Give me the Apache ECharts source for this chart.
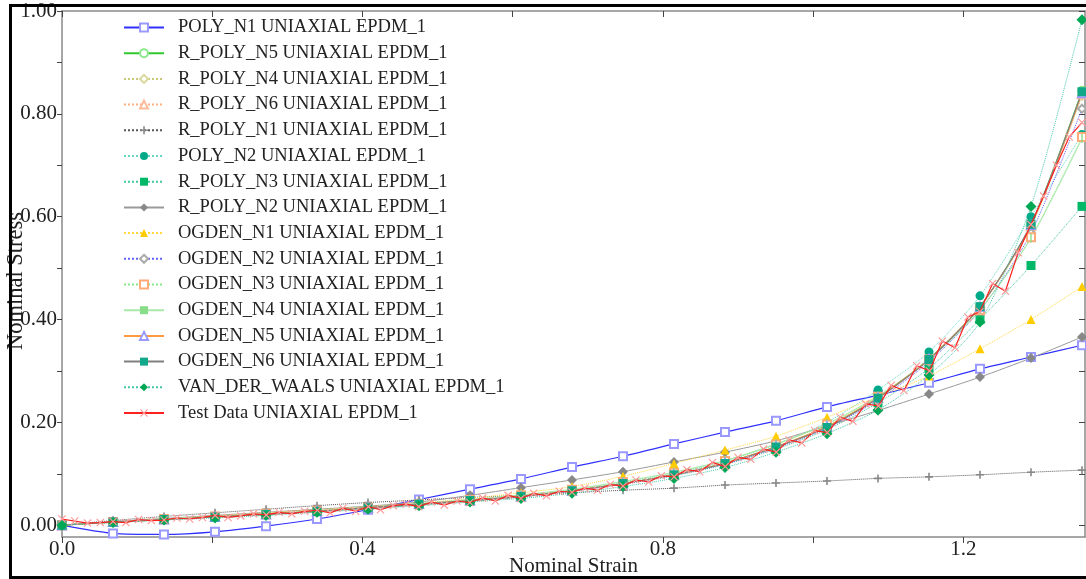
<!DOCTYPE html>
<html><head><meta charset="utf-8">
<script src="https://cdn.jsdelivr.net/npm/echarts@6/dist/echarts.min.js"></script>
<style>html,body{margin:0;padding:0;background:#fff}#c{width:1086px;height:579px}</style>
</head><body><div id="c"></div>
<script>
// ---------- DATA ----------
const strain = [0, 0.0679, 0.1358, 0.2037, 0.2716, 0.3395, 0.4074, 0.4753, 0.5432, 0.6111, 0.679, 0.7469, 0.8148, 0.8827, 0.9506, 1.0185, 1.0864, 1.1543, 1.2222, 1.2901, 1.358];

const polyN1   = [0,-0.016,-0.018,-0.013,-0.002,0.012,0.030,0.050,0.070,0.090,0.113,0.134,0.158,0.181,0.203,0.230,0.253,0.277,0.304,0.327,0.350];
const rPolyN5  = [0,0.006,0.011,0.016,0.021,0.027,0.033,0.040,0.047,0.056,0.067,0.081,0.098,0.121,0.152,0.192,0.248,0.324,0.425,0.585,0.845];
const rPolyN4  = [0,0.007,0.012,0.017,0.022,0.028,0.034,0.041,0.048,0.056,0.067,0.081,0.098,0.120,0.151,0.190,0.246,0.322,0.424,0.580,0.835];
const rPolyN6  = [0,0.006,0.011,0.016,0.021,0.027,0.034,0.041,0.048,0.056,0.067,0.081,0.098,0.120,0.152,0.191,0.247,0.322,0.423,0.582,0.838];
const rPolyN1  = [0,0.009,0.017,0.024,0.031,0.038,0.044,0.049,0.054,0.058,0.063,0.068,0.072,0.078,0.082,0.086,0.091,0.094,0.098,0.103,0.107];
const polyN2   = [0,0.007,0.012,0.017,0.022,0.028,0.035,0.042,0.049,0.057,0.068,0.082,0.100,0.124,0.157,0.200,0.263,0.337,0.446,0.600,0.760];
const rPolyN3  = [0,0.006,0.011,0.016,0.021,0.027,0.033,0.040,0.047,0.055,0.066,0.080,0.096,0.118,0.148,0.186,0.238,0.305,0.400,0.505,0.620];
const rPolyN2  = [0,0.007,0.013,0.019,0.025,0.031,0.037,0.045,0.058,0.073,0.088,0.104,0.123,0.142,0.164,0.193,0.223,0.255,0.288,0.325,0.366];
const ogdenN1  = [0,0.006,0.012,0.018,0.024,0.030,0.036,0.043,0.052,0.063,0.075,0.095,0.120,0.146,0.173,0.210,0.250,0.290,0.343,0.400,0.464];
const ogdenN2  = [0,0.006,0.011,0.016,0.021,0.027,0.033,0.040,0.047,0.055,0.066,0.080,0.097,0.119,0.150,0.189,0.243,0.318,0.418,0.568,0.810];
const ogdenN3  = [0,0.006,0.012,0.017,0.022,0.028,0.034,0.041,0.049,0.058,0.069,0.084,0.102,0.125,0.157,0.196,0.250,0.322,0.418,0.560,0.755];
const ogdenN4  = [0,0.006,0.012,0.017,0.022,0.028,0.035,0.042,0.050,0.059,0.070,0.085,0.103,0.126,0.158,0.197,0.251,0.323,0.419,0.558,0.752];
const ogdenN5  = [0,0.006,0.011,0.016,0.021,0.027,0.034,0.041,0.048,0.056,0.067,0.081,0.098,0.121,0.153,0.192,0.248,0.323,0.425,0.584,0.840];
const ogdenN6  = [0,0.006,0.011,0.016,0.021,0.027,0.034,0.041,0.048,0.056,0.067,0.081,0.098,0.120,0.152,0.190,0.247,0.322,0.425,0.585,0.843];
const vdw      = [0,0.005,0.010,0.014,0.019,0.025,0.031,0.038,0.045,0.052,0.062,0.075,0.091,0.112,0.142,0.178,0.224,0.292,0.395,0.620,0.983];

const testStrain = [0,0.017,0.034,0.051,0.068,0.085,0.102,0.119,0.136,0.153,0.170,0.187,0.204,0.221,0.238,0.255,0.272,0.289,0.306,0.323,0.340,0.357,0.374,0.391,0.408,0.424,0.441,0.458,0.475,0.492,0.509,0.526,0.543,0.560,0.577,0.594,0.611,0.628,0.645,0.662,0.679,0.696,0.713,0.730,0.747,0.764,0.781,0.798,0.815,0.832,0.849,0.866,0.883,0.900,0.917,0.934,0.951,0.968,0.985,1.002,1.019,1.036,1.053,1.070,1.087,1.104,1.121,1.138,1.155,1.172,1.189,1.206,1.222,1.239,1.256,1.273,1.290,1.307,1.324,1.341,1.358];
const testStress = [0.012,0.008,0.004,0.005,0.007,0.005,0.011,0.009,0.010,0.014,0.012,0.015,0.019,0.015,0.018,0.022,0.020,0.025,0.022,0.027,0.029,0.024,0.033,0.027,0.036,0.030,0.038,0.041,0.036,0.045,0.039,0.047,0.044,0.053,0.047,0.058,0.052,0.062,0.057,0.066,0.064,0.072,0.068,0.079,0.076,0.088,0.084,0.096,0.094,0.108,0.104,0.122,0.114,0.132,0.128,0.148,0.142,0.166,0.160,0.184,0.180,0.210,0.202,0.236,0.232,0.272,0.262,0.310,0.300,0.358,0.345,0.405,0.415,0.470,0.455,0.530,0.585,0.640,0.700,0.755,0.783];

const xTicks = [0,0.2,0.4,0.6,0.8,1.0,1.2];
const xLabels = [0,0.4,0.8,1.2];
const yTicks = [0,0.1,0.2,0.3,0.4,0.5,0.6,0.7,0.8,0.9,1.0];
const yLabels = [0,0.2,0.4,0.6,0.8,1.0];

const names = ['POLY_N1 UNIAXIAL EPDM_1','R_POLY_N5 UNIAXIAL EPDM_1','R_POLY_N4 UNIAXIAL EPDM_1','R_POLY_N6 UNIAXIAL EPDM_1','R_POLY_N1 UNIAXIAL EPDM_1','POLY_N2 UNIAXIAL EPDM_1','R_POLY_N3 UNIAXIAL EPDM_1','R_POLY_N2 UNIAXIAL EPDM_1','OGDEN_N1 UNIAXIAL EPDM_1','OGDEN_N2 UNIAXIAL EPDM_1','OGDEN_N3 UNIAXIAL EPDM_1','OGDEN_N4 UNIAXIAL EPDM_1','OGDEN_N5 UNIAXIAL EPDM_1','OGDEN_N6 UNIAXIAL EPDM_1','VAN_DER_WAALS UNIAXIAL EPDM_1','Test Data UNIAXIAL EPDM_1'];

// ---------- STYLE ----------
const PLUS = 'path://M4,0h2v4h4v2h-4v4h-2v-4h-4v-2h4z';
const BAR = 'path://M0,0h1.5v10h-1.5z';
const XMARK = 'path://M0,1L1,0L5,4L9,0L10,1L6,5L10,9L9,10L5,6L1,10L0,9L4,5z';
const FONT = '"Liberation Serif","DejaVu Serif",serif';

function fit(name, vals, o) {
  return {
    name, type: 'line', data: strain.map((x, i) => [x, vals[i]]),
    smooth: 0.25, symbol: o.sym, symbolSize: o.size || 8, showSymbol: true,
    symbolKeepAspect: !!o.keep,
    lineStyle: { color: o.line, width: o.w || 1, type: o.dash ? 'dotted' : 'solid' },
    itemStyle: { color: o.mk },
    emphasis: { disabled: true }, animation: false, z: o.z || 2
  };
}

const series = [
  fit(names[0], polyN1,  { line: '#3030ff', mk: '#9999ff', sym: 'emptyRect', w: 1.2 }),
  fit(names[1], rPolyN5, { line: '#30c830', mk: '#8be88b', sym: 'emptyCircle' }),
  fit(names[2], rPolyN4, { line: '#c8c878', mk: '#d8d89a', sym: 'emptyDiamond', dash: true }),
  fit(names[3], rPolyN6, { line: '#ffb080', mk: '#ffbb99', sym: 'emptyTriangle', dash: true }),
  fit(names[4], rPolyN1, { line: '#555555', mk: '#888888', sym: PLUS, dash: true, size: 8 }),
  fit(names[5], polyN2,  { line: '#66d8c4', mk: '#00aa88', sym: 'circle', dash: true, size: 9 }),
  fit(names[6], rPolyN3, { line: '#44c8a0', mk: '#00b868', sym: 'rect', dash: true, size: 9 }),
  fit(names[7], rPolyN2, { line: '#999999', mk: '#888888', sym: 'diamond', size: 10 }),
  fit(names[8], ogdenN1, { line: '#ffd840', mk: '#ffcc00', sym: 'triangle', dash: true, size: 9 }),
  fit(names[9], ogdenN2, { line: '#6060ff', mk: '#aaaaaa', sym: 'emptyDiamond', dash: true }),
  fit(names[10], ogdenN3, { line: '#88e888', mk: '#ffaa77', sym: 'emptyRect', dash: true }),
  fit(names[11], ogdenN4, { line: '#a8e8a8', mk: '#88dd88', sym: BAR, size: 9, keep: true }),
  fit(names[12], ogdenN5, { line: '#ff9a44', mk: '#9999ff', sym: 'emptyTriangle', w: 1.2 }),
  fit(names[13], ogdenN6, { line: '#808080', mk: '#10a888', sym: 'rect', size: 9, w: 1.2 }),
  fit(names[14], vdw,    { line: '#44c8aa', mk: '#00a855', sym: 'diamond', dash: true, size: 11 }),
  {
    name: names[15], type: 'line', data: testStrain.map((x, i) => [x, testStress[i]]),
    symbol: XMARK, symbolSize: 8, showSymbol: true,
    lineStyle: { color: '#ff2020', width: 1.2, type: 'solid' },
    itemStyle: { color: '#ff9a9a' }, emphasis: { disabled: true }, animation: false, z: 5
  }
];

const axisGray = '#8a8a8a';
const option = {
  backgroundColor: '#fff',
  animation: false,
  textStyle: { fontFamily: FONT },
  grid: { left: 62, right: 1, top: 11, bottom: 42, outerBoundsMode: 'none', containLabel: false },
  legend: {
    orient: 'vertical', left: 118, top: 13, itemWidth: 40, itemHeight: 10, itemGap: 6.7,
    textStyle: { fontFamily: FONT, fontSize: 18.5, color: '#222', lineHeight: 18, padding: [0, 0, 0, 9] },
    data: names, selectedMode: false
  },
  xAxis: [{
    type: 'value', min: 0, max: 1.362, position: 'bottom',
    name: 'Nominal Strain', nameLocation: 'middle', nameGap: 19, nameMoveOverlap: false,
    nameTextStyle: { fontFamily: FONT, fontSize: 21, color: '#222' },
    axisLine: { show: true, onZero: false, lineStyle: { color: axisGray, width: 1.5 } },
    axisTick: { show: true, inside: false, length: 6, customValues: xTicks, lineStyle: { color: '#444' } },
    axisLabel: { customValues: xLabels, margin: 2, fontFamily: FONT, fontSize: 21, color: '#222', formatter: v => v.toFixed(1) },
    splitLine: { show: false }
  }, {
    type: 'value', min: 0, max: 1.362, position: 'top',
    axisLine: { show: true, onZero: false, lineStyle: { color: axisGray, width: 1.5 } },
    axisTick: { show: true, inside: true, length: 6, customValues: xTicks, lineStyle: { color: '#444' } },
    axisLabel: { show: false }, splitLine: { show: false }
  }],
  yAxis: [{
    type: 'value', min: -0.023, max: 1.0, position: 'left',
    name: 'Nominal Stress', nameLocation: 'middle', nameGap: 34, nameRotate: 90, nameMoveOverlap: false,
    nameTextStyle: { fontFamily: FONT, fontSize: 22.5, color: '#222', padding: [0, 14, 0, 0] },
    axisLine: { show: true, onZero: false, lineStyle: { color: axisGray, width: 1.5 } },
    axisTick: { show: true, inside: false, length: 5, customValues: yTicks, lineStyle: { color: '#444' } },
    axisLabel: { customValues: yLabels, margin: 5, fontFamily: FONT, fontSize: 21, color: '#222', formatter: v => v.toFixed(2) },
    splitLine: { show: false }
  }, {
    type: 'value', min: -0.023, max: 1.0, position: 'right',
    axisLine: { show: true, onZero: false, lineStyle: { color: axisGray, width: 1.5 } },
    axisTick: { show: true, inside: true, length: 6, customValues: yTicks, lineStyle: { color: '#444' } },
    axisLabel: { show: false }, splitLine: { show: false }
  }],
  series,
  graphic: [{
    type: 'rect', left: 8, top: 3, z: 100, silent: true,
    shape: { width: 1100, height: 572 },
    style: { fill: 'none', stroke: '#000', lineWidth: 3 }
  }]
};
const chart = echarts.init(document.getElementById('c'), null, { renderer: 'canvas' });
chart.setOption(option);
</script></body></html>
